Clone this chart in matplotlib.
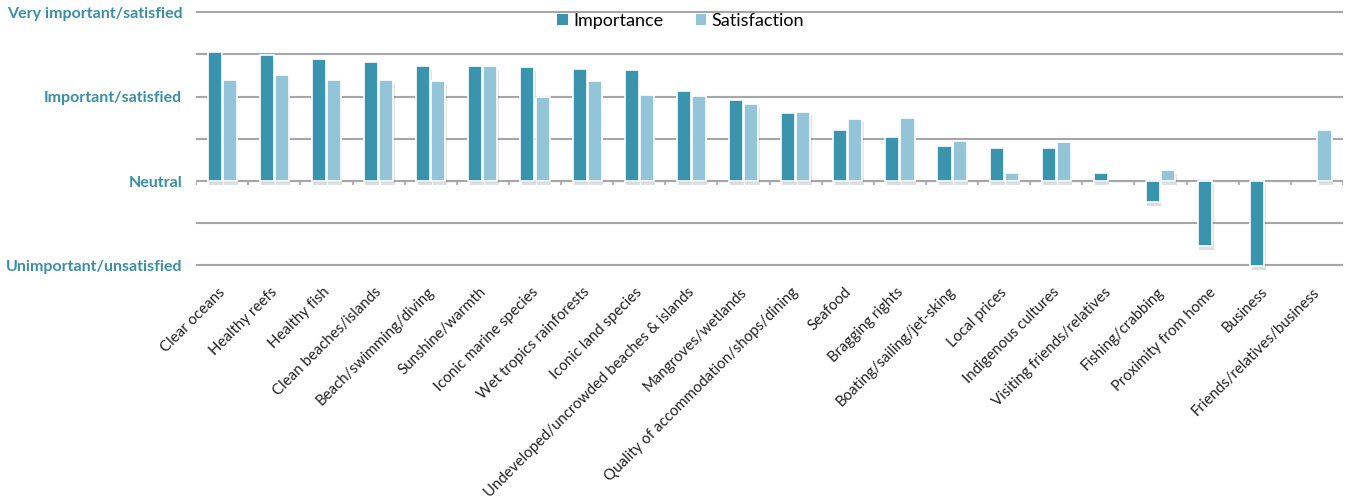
import matplotlib
matplotlib.use('Agg')

import matplotlib.pyplot as plt
import matplotlib.patheffects as pe
from matplotlib.patches import Patch
import numpy as np

categories = [
    "Clear oceans", "Healthy reefs", "Healthy fish", "Clean beaches/islands",
    "Beach/swimming/diving", "Sunshine/warmth", "Iconic marine species",
    "Wet tropics rainforests", "Iconic land species",
    "Undeveloped/uncrowded beaches & islands", "Mangroves/wetlands",
    "Quality of accommodation/shops/dining", "Seafood", "Bragging rights",
    "Boating/sailing/jet-sking", "Local prices", "Indigenous cultures",
    "Visiting friends/relatives", "Fishing/crabbing", "Proximity from home",
    "Business", "Friends/relatives/business",
]
importance = [1.53, 1.49, 1.45, 1.41, 1.36, 1.36, 1.35, 1.33, 1.31, 1.07, 0.96,
              0.80, 0.60, 0.52, 0.42, 0.39, 0.39, 0.09, -0.25, -0.77, -1.01, np.nan]
satisfaction = [1.20, 1.26, 1.20, 1.20, 1.18, 1.36, 1.00, 1.18, 1.02, 1.01, 0.91,
                0.82, 0.74, 0.75, 0.47, 0.10, 0.46, np.nan, 0.13, np.nan, np.nan, 0.61]
level_ticks = [2, 1, 0, -1]
level_labels = ["Very important/satisfied", "Important/satisfied", "Neutral",
                "Unimportant/unsatisfied"]

imp_color = "#3a94ae"
sat_color = "#93c4d7"
label_color = "#3a8fa5"
grid_color = "#a6a6a6"

plt.rcParams['font.family'] = ['Lato', 'DejaVu Sans']

fig = plt.figure(figsize=(13.53, 4.98), dpi=100)
ax = fig.add_axes([0.145, 0.45, 0.8476, 0.534])

x = np.arange(len(categories))
w = 0.27
shadow = [pe.SimplePatchShadow(offset=(1, -2.5), alpha=0.15), pe.Normal()]
b1 = ax.bar(x - 0.145, importance, w, color=imp_color, edgecolor="white",
            linewidth=1.2, zorder=3)
b2 = ax.bar(x + 0.145, satisfaction, w, color=sat_color, edgecolor="white",
            linewidth=1.2, zorder=3)
for b in list(b1) + list(b2):
    b.set_path_effects(shadow)

ax.set_xlim(-0.5, len(categories) - 0.5)
ax.set_ylim(-1.1, 2.05)

ax.set_yticks(level_ticks)
ax.set_yticklabels(level_labels, color=label_color, fontweight="bold", fontsize=11.5)
ax.set_yticks([1.5, 0.5, -0.5], minor=True)
ax.tick_params(axis="y", which="both", length=0, pad=10)
ax.grid(axis="y", which="both", color=grid_color, linewidth=1.5, zorder=0)

# zero axis line with boundary ticks
ax.axhline(0, color=grid_color, linewidth=1.5, zorder=2)
bounds = np.arange(len(categories) + 1) - 0.5
ax.vlines(bounds, -0.05, 0, color=grid_color, linewidth=1.2, zorder=2)

ax.set_xticks(x - 0.08)
ax.set_xticklabels(categories, rotation=45, ha="right", va="top",
                   rotation_mode="anchor", fontsize=10.8, color="#222222")
ax.tick_params(axis="x", length=0, pad=8)

for s in ax.spines.values():
    s.set_visible(False)

handles = [Patch(facecolor=imp_color, label="Importance"),
           Patch(facecolor=sat_color, label="Satisfaction")]
fig.legend(handles=handles, loc="center", bbox_to_anchor=(0.503, 0.958), ncol=2,
           frameon=False, fontsize=13, handlelength=0.6, handleheight=0.6,
           handletextpad=0.3, columnspacing=1.8)

fig.savefig("out.png", dpi=100)
